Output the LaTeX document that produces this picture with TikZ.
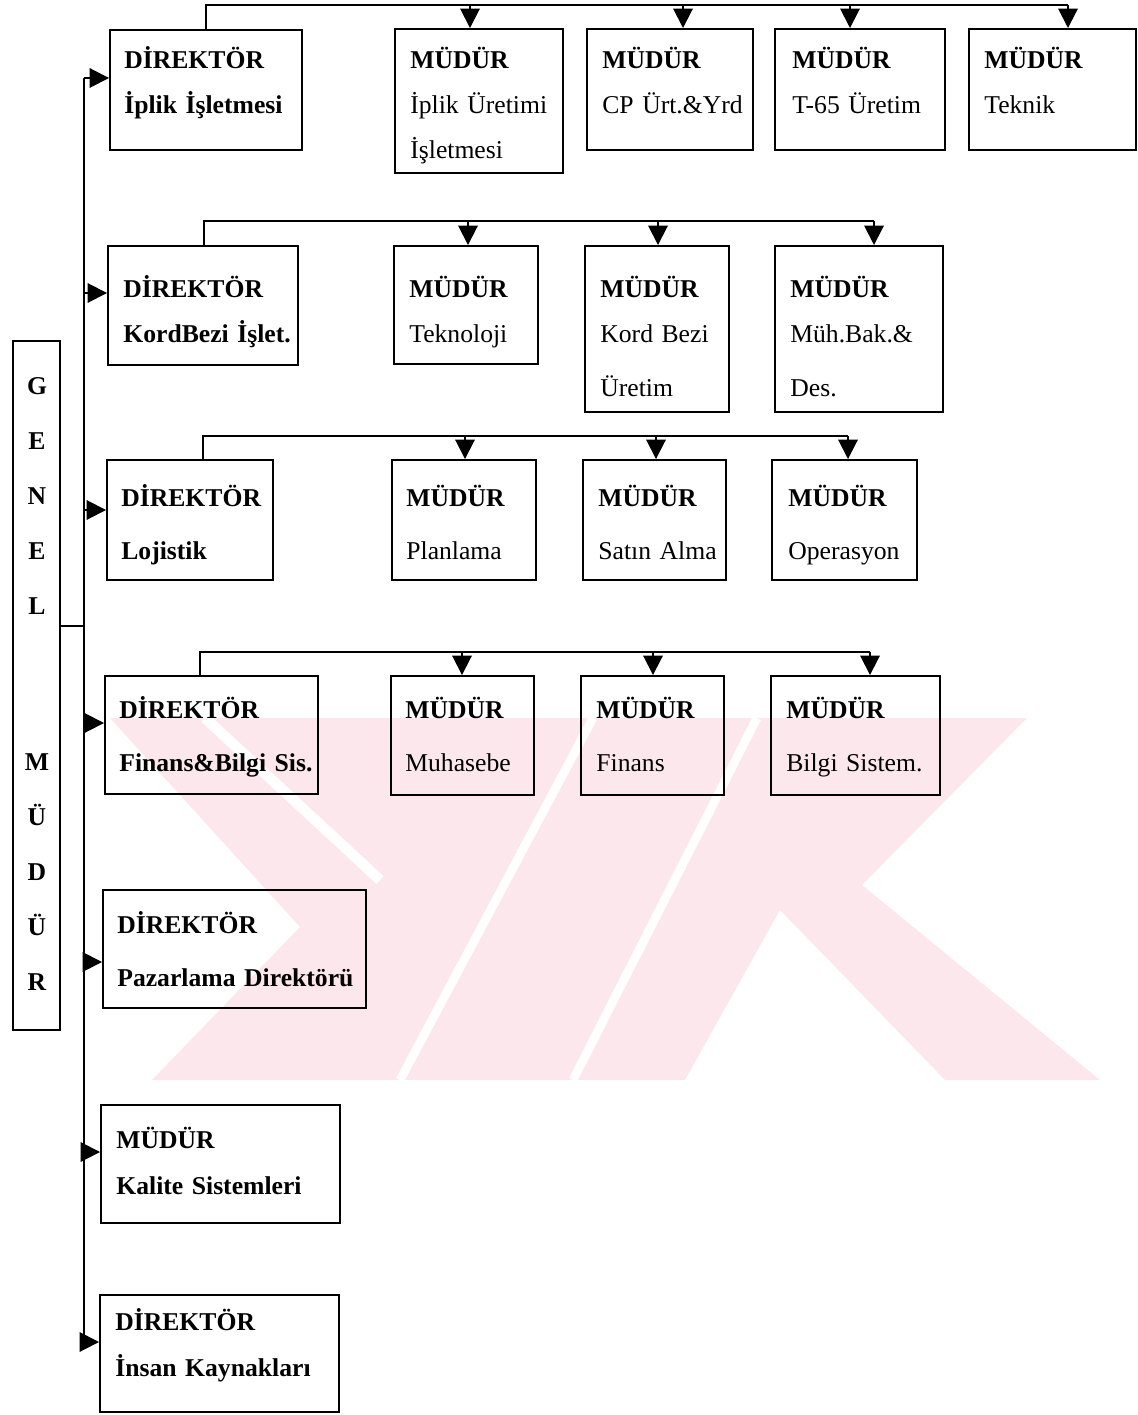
\documentclass[tikz,border=0pt]{standalone}
\usepackage{fontspec}
\setmainfont{Liberation Serif}
\usetikzlibrary{arrows.meta,positioning,fit}
\definecolor{filigran}{RGB}{252,232,236}

\begin{document}
\begin{tikzpicture}[x=.02cm,y=-.02cm,
  kutu/.style={draw,line width=1.1pt,inner sep=0pt},
  yazi/.style={anchor=base west,inner sep=0pt,text width=5cm,align=left,
    font=\fontsize{14.6pt}{25.6pt}\selectfont},
  genis/.style={yazi,font=\fontsize{14.6pt}{30.4pt}\selectfont},
  hat/.style={line width=1.1pt},
  ok/.style={hat,-{Triangle[length=11pt,width=11pt]}}]
\useasboundingbox (0,0) rectangle (1137,1415);

% filigran
\fill[filigran] (110,718) -- (1027,718) -- (862,885) -- (1100,1080)
  -- (945,1080) -- (780,910) -- (685,1080) -- (152,1080) -- (300,927) -- cycle;
\draw[white,line width=6pt] (205,718)--(380,880);
\draw[white,line width=5pt] (593,718)--(400,1080) (757,718)--(573,1080);

% genel mudur
\node[kutu,fit={(13,341) (60,1030)}] (gm) {};
\node[anchor=base,inner sep=0pt,text width=1cm,align=center,
  font=\fontsize{14.6pt}{31.3pt}\selectfont\bfseries] (gmy) at (37,395)
  {G\\E\\N\\E\\L\\[57pt]M\\Ü\\D\\Ü\\R};

% direktorler
\node[kutu,fit={(110,30) (302,150)}] (d1) {};
\node[yazi] (d1y) at (124,69) {\textbf{DİREKTÖR}\\\textbf{İplik İşletmesi}};
\node[kutu,fit={(108,246) (298,365)}] (d2) {};
\node[yazi] (d2y) at (123,298) {\textbf{DİREKTÖR}\\\textbf{KordBezi İşlet.}};
\node[kutu,fit={(107,460) (273,580)}] (d3) {};
\node[genis] (d3y) at (121,506) {\textbf{DİREKTÖR}\\\textbf{Lojistik}};
\node[kutu,fit={(105,676) (318,794)}] (d4) {};
\node[genis] (d4y) at (119,718) {\textbf{DİREKTÖR}\\\textbf{Finans\&Bilgi Sis.}};
\node[kutu,fit={(103,890) (366,1008)}] (d5) {};
\node[genis] (d5y) at (117,933) {\textbf{DİREKTÖR}\\\textbf{Pazarlama Direktörü}};
\node[kutu,fit={(101,1105) (340,1223)}] (d6) {};
\node[yazi] (d6y) at (116,1148) {\textbf{MÜDÜR}\\[1pt]\textbf{Kalite Sistemleri}};
\node[kutu,fit={(100,1295) (339,1412)}] (d7) {};
\node[yazi] (d7y) at (115,1330) {\textbf{DİREKTÖR}\\[1pt]\textbf{İnsan Kaynakları}};

% mudurler
\node[kutu,fit={(395,29) (563,173)}] (m11) {};
\node[yazi] (m11y) at (410,69) {\textbf{MÜDÜR}\\İplik Üretimi\\İşletmesi};
\node[kutu,fit={(587,29) (753,150)}] (m12) {};
\node[yazi] (m12y) at (602,69) {\textbf{MÜDÜR}\\CP Ürt.\&Yrd};
\node[kutu,fit={(775,29) (945,150)}] (m13) {};
\node[yazi] (m13y) at (792,69) {\textbf{MÜDÜR}\\T-65 Üretim};
\node[kutu,fit={(969,29) (1136,150)}] (m14) {};
\node[yazi] (m14y) at (984,69) {\textbf{MÜDÜR}\\Teknik};

\node[kutu,fit={(394,246) (538,364)}] (m21) {};
\node[yazi] (m21y) at (409,298) {\textbf{MÜDÜR}\\Teknoloji};
\node[kutu,fit={(585,246) (729,412)}] (m22) {};
\node[yazi] (m22y) at (600,298) {\textbf{MÜDÜR}\\Kord Bezi\\[5pt]Üretim};
\node[kutu,fit={(775,246) (943,412)}] (m23) {};
\node[yazi] (m23y) at (790,298) {\textbf{MÜDÜR}\\Müh.Bak.\&\\[5pt]Des.};

\node[kutu,fit={(392,460) (536,580)}] (m31) {};
\node[genis] (m31y) at (406,506) {\textbf{MÜDÜR}\\Planlama};
\node[kutu,fit={(583,460) (726,580)}] (m32) {};
\node[genis] (m32y) at (598,506) {\textbf{MÜDÜR}\\Satın Alma};
\node[kutu,fit={(772,460) (917,580)}] (m33) {};
\node[genis] (m33y) at (788,506) {\textbf{MÜDÜR}\\Operasyon};

\node[kutu,fit={(391,676) (534,795)}] (m41) {};
\node[genis] (m41y) at (405,718) {\textbf{MÜDÜR}\\Muhasebe};
\node[kutu,fit={(581,676) (724,795)}] (m42) {};
\node[genis] (m42y) at (596,718) {\textbf{MÜDÜR}\\Finans};
\node[kutu,fit={(771,676) (940,795)}] (m43) {};
\node[genis] (m43y) at (786,718) {\textbf{MÜDÜR}\\Bilgi Sistem.};

% genel mudurden direktorlere
\coordinate (s0) at (84,626);
\coordinate (s1) at (84,78);
\coordinate (s2) at (84,293);
\coordinate (s3) at (84,510);
\coordinate (s4) at (84,723);
\coordinate (s5) at (84,962);
\coordinate (s6) at (84,1152);
\coordinate (s7) at (84,1342);
\draw[hat] (gm.east |- s0) -- (s0);
\draw[hat] (s1) -- (s7);
\foreach \i in {1,...,7}
  \draw[ok] (s\i) -- (s\i -| d\i.west);

% direktorden mudurlere
\coordinate (u1) at (206,5);
\draw[hat] (u1 |- d1.north) -- (u1) -- (1068,5);
\foreach \x/\m in {470/m11,683/m12,850/m13,1068/m14}
  \draw[ok] (\x,5) -- (\x,5 |- \m.north);
\coordinate (u2) at (204,221);
\draw[hat] (u2 |- d2.north) -- (u2) -- (874,221);
\foreach \x/\m in {468/m21,658/m22,874/m23}
  \draw[ok] (\x,221) -- (\x,221 |- \m.north);
\coordinate (u3) at (203,436);
\draw[hat] (u3 |- d3.north) -- (u3) -- (848,436);
\foreach \x/\m in {465/m31,656/m32,848/m33}
  \draw[ok] (\x,436) -- (\x,436 |- \m.north);
\coordinate (u4) at (200,652);
\draw[hat] (u4 |- d4.north) -- (u4) -- (870,652);
\foreach \x/\m in {462/m41,653/m42,870/m43}
  \draw[ok] (\x,652) -- (\x,652 |- \m.north);
\end{tikzpicture}
\end{document}
